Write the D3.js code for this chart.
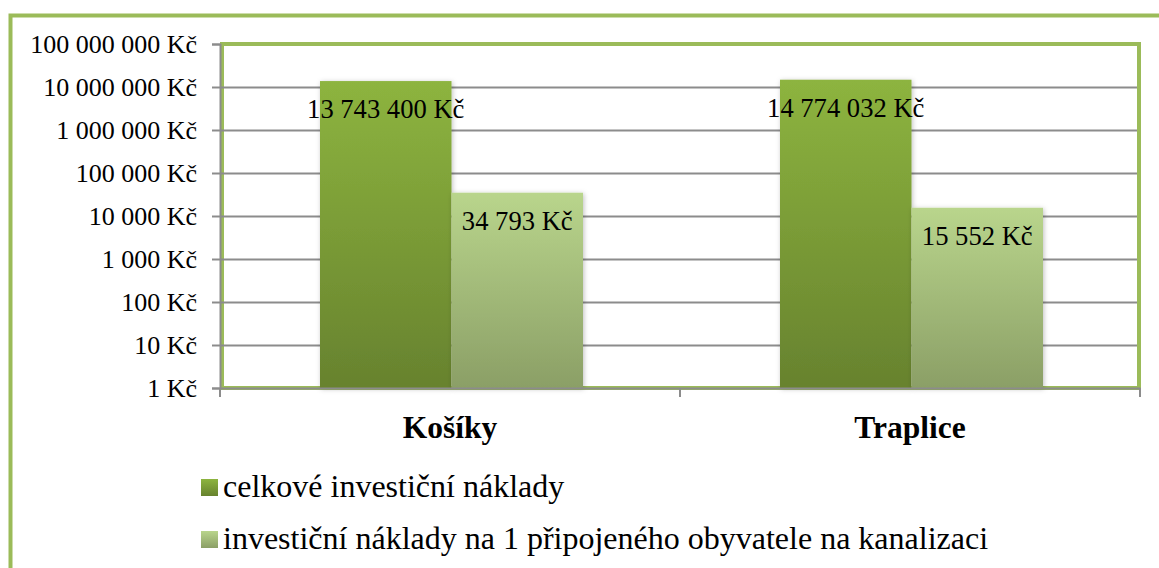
<!DOCTYPE html>
<html>
<head>
  <meta charset="utf-8">
  <title>Investiční náklady</title>
  <style>
    body { margin: 0; background: #fff; }
  </style>
</head>
<body>
  <div id="chart"></div>
  <script src="https://d3js.org/d3.v7.min.js"></script>
  <script>
    // Data
    const categories = ["Košíky", "Traplice"];
    const seriesNames = [
      "celkové investiční náklady",
      "investiční náklady na 1 připojeného obyvatele na kanalizaci"
    ];
    const totalCosts = [13743400, 14774032];
    const perResident = [34793, 15552];
    const tickValues = [1, 10, 100, 1000, 10000, 100000, 1000000, 10000000, 100000000];

    const width = 1159, height = 568;
    const plot = { left: 220, right: 1140, top: 44, bottom: 388 };
    const serif = "'Liberation Serif', 'Times New Roman', serif";

    const svg = d3.select("#chart")
      .append("svg")
      .attr("width", width)
      .attr("height", height);

    const defs = svg.append("defs");

    // Gradients for the two series
    const gradients = [
      { id: "g0", top: "#8db43f", bottom: "#67822e" },
      { id: "g1", top: "#b9d58c", bottom: "#8b9f66" }
    ];
    gradients.forEach(g => {
      const lg = defs.append("linearGradient")
        .attr("id", g.id)
        .attr("x1", 0).attr("y1", 0).attr("x2", 0).attr("y2", 1);
      lg.append("stop").attr("offset", "0%").attr("stop-color", g.top);
      lg.append("stop").attr("offset", "100%").attr("stop-color", g.bottom);
    });

    const shadow = defs.append("filter")
      .attr("id", "shadow")
      .attr("x", "-10%").attr("y", "-10%").attr("width", "120%").attr("height", "120%");
    shadow.append("feDropShadow")
      .attr("dx", 1).attr("dy", 1)
      .attr("stdDeviation", 2.5)
      .attr("flood-color", "#000")
      .attr("flood-opacity", 0.25);

    // Outer frame
    svg.append("rect")
      .attr("x", 10.5).attr("y", 15.5)
      .attr("width", width + 20).attr("height", height + 20)
      .attr("fill", "none")
      .attr("stroke", "#9bbb59")
      .attr("stroke-width", 4);

    // Scales
    const x0 = d3.scaleBand()
      .domain(categories)
      .range([plot.left, plot.right])
      .padding(0);

    const x1 = d3.scaleBand()
      .domain(d3.range(seriesNames.length))
      .range([100, x0.bandwidth() - 97])
      .padding(0);

    const y = d3.scaleLog()
      .domain([1, 100000000])
      .range([plot.bottom, plot.top]);

    const fmt = v => d3.format(",")(v).replace(/,/g, "\u00a0") + "\u00a0Kč";

    // Plot area border
    svg.append("rect")
      .attr("x", plot.left + 2).attr("y", plot.top)
      .attr("width", plot.right - plot.left - 3)
      .attr("height", plot.bottom - plot.top)
      .attr("fill", "#fff")
      .attr("stroke", "#9bbb59")
      .attr("stroke-width", 4);

    // Gridlines
    svg.append("g")
      .attr("transform", `translate(${plot.left},0)`)
      .call(d3.axisLeft(y).tickValues(tickValues.slice(1, -1)).tickSize(-(plot.right - plot.left - 3)).tickFormat(""))
      .call(g => g.select(".domain").remove())
      .call(g => g.selectAll(".tick line").attr("stroke", "#8c8c8c").attr("stroke-width", 2));

    // Bars
    const rows = categories.map((c, i) => ({ cat: c, values: [totalCosts[i], perResident[i]] }));

    const groups = svg.append("g")
      .selectAll("g")
      .data(rows)
      .join("g")
      .attr("transform", d => `translate(${x0(d.cat)},0)`);

    groups.selectAll("rect")
      .data(d => d.values.map((v, k) => ({ k, v })))
      .join("rect")
      .attr("x", d => x1(d.k))
      .attr("y", d => y(d.v))
      .attr("width", x1.bandwidth())
      .attr("height", d => plot.bottom - y(d.v))
      .attr("fill", d => `url(#g${d.k})`)
      .attr("filter", "url(#shadow)");

    groups.selectAll("text.val")
      .data(d => d.values.map((v, k) => ({ k, v })))
      .join("text")
      .attr("class", "val")
      .attr("x", d => x1(d.k) + x1.bandwidth() / 2)
      .attr("y", d => y(d.v) + 37)
      .attr("text-anchor", "middle")
      .style("font-family", serif)
      .style("font-size", "26.6px")
      .text(d => fmt(d.v));

    // Y axis
    const yAxis = svg.append("g")
      .attr("transform", `translate(${plot.left},0)`)
      .call(d3.axisLeft(y).tickValues(tickValues).tickSize(8).tickPadding(15).tickFormat(fmt));
    yAxis.select(".domain").attr("stroke", "#8c8c8c").attr("stroke-width", 2);
    yAxis.selectAll(".tick line").attr("stroke", "#8c8c8c").attr("stroke-width", 2);
    yAxis.selectAll(".tick text")
      .attr("fill", "#000")
      .style("font-size", "26px")
      .style("font-family", serif);

    // X axis
    const xAxis = svg.append("g")
      .attr("transform", `translate(0,${plot.bottom})`)
      .call(d3.axisBottom(x0).tickSize(0).tickPadding(28));
    xAxis.select(".domain").attr("stroke", "#8c8c8c").attr("stroke-width", 2);
    xAxis.selectAll(".tick text")
      .attr("fill", "#000")
      .style("font-size", "31.5px")
      .style("font-weight", "bold")
      .style("font-family", serif);

    const edges = [x0.range()[0]].concat(categories.map(c => x0(c) + x0.bandwidth()));
    xAxis.selectAll("line.edge")
      .data(edges)
      .join("line")
      .attr("class", "edge")
      .attr("x1", d => d).attr("x2", d => d)
      .attr("y1", 0).attr("y2", 9)
      .attr("stroke", "#8c8c8c")
      .attr("stroke-width", 2);

    // Legend
    const legend = svg.append("g")
      .selectAll("g")
      .data(seriesNames)
      .join("g")
      .attr("transform", (d, i) => `translate(201,${479 + i * 52})`);

    legend.append("rect")
      .attr("width", 17).attr("height", 17)
      .attr("fill", (d, i) => `url(#g${i})`);

    legend.append("text")
      .attr("x", 22)
      .attr("y", 18)
      .style("font-family", serif)
      .style("font-size", "32px")
      .text(d => d);
  </script>
</body>
</html>
